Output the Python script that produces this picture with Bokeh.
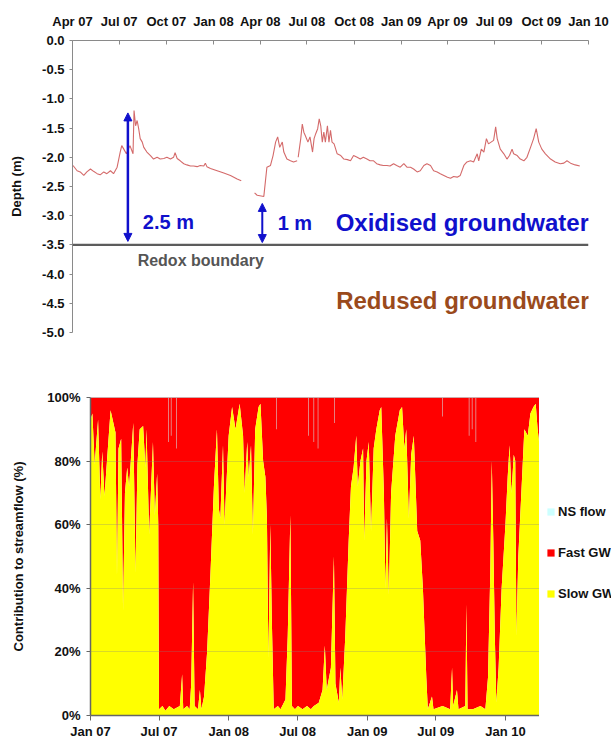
import numpy as np
import pandas as pd
from bokeh.plotting import figure
from bokeh.models import (Range1d, FixedTicker, Label, Arrow, NormalHead, Span,
                          Legend, LegendItem, DatetimeTickFormatter, PrintfTickFormatter)
from bokeh.layouts import row
from bokeh.embed import file_html
from bokeh.resources import INLINE

# ---------------- data: groundwater depth (m) ----------------
depth_dates_1 = ["2007-04-02", "2007-04-10", "2007-04-16", "2007-04-23", "2007-04-29", "2007-05-06",
                 "2007-05-12", "2007-05-19", "2007-05-25", "2007-06-01", "2007-06-07", "2007-06-14",
                 "2007-06-20", "2007-06-27", "2007-07-03", "2007-07-06", "2007-07-10", "2007-07-15",
                 "2007-07-19", "2007-07-22", "2007-07-28", "2007-07-30", "2007-08-02", "2007-08-05",
                 "2007-08-08", "2007-08-11", "2007-08-15", "2007-08-18", "2007-08-24", "2007-08-31",
                 "2007-09-06", "2007-09-13", "2007-09-19", "2007-09-26", "2007-10-02", "2007-10-09",
                 "2007-10-15", "2007-10-18", "2007-10-22", "2007-10-28", "2007-11-04", "2007-11-10",
                 "2007-11-17", "2007-11-23", "2007-11-30", "2007-12-06", "2007-12-13", "2007-12-16",
                 "2007-12-19", "2007-12-26", "2008-01-08", "2008-01-21", "2008-02-03", "2008-02-16",
                 "2008-02-24"]
depth_1 = [-2.14, -2.23, -2.25, -2.31, -2.25, -2.20,
           -2.24, -2.28, -2.30, -2.25, -2.28, -2.23,
           -2.28, -2.17, -1.91, -1.80, -1.86, -1.94,
           -1.86, -1.80, -1.94, -1.20, -1.46, -1.37,
           -1.51, -1.68, -1.74, -1.83, -1.91, -1.97,
           -2.03, -2.00, -2.03, -2.02, -2.00, -2.03,
           -2.00, -1.92, -2.02, -2.06, -2.11, -2.13,
           -2.15, -2.15, -2.16, -2.14, -2.15, -2.10,
           -2.16, -2.19, -2.23, -2.27, -2.31, -2.37,
           -2.40]

depth_dates_2 = ["2008-03-21", "2008-03-26", "2008-04-08", "2008-04-11", "2008-04-14", "2008-04-21",
                 "2008-04-26", "2008-05-01", "2008-05-05", "2008-05-09", "2008-05-14", "2008-05-17",
                 "2008-05-23", "2008-05-30", "2008-06-05", "2008-06-12"]
depth_2 = [-2.61, -2.65, -2.67, -2.42, -2.17, -2.14,
           -1.97, -1.74, -1.65, -1.83, -1.74, -1.91,
           -2.03, -2.06, -2.08, -2.06]

depth_dates_3 = ["2008-06-14", "2008-06-19", "2008-06-22", "2008-06-25", "2008-06-28", "2008-07-03",
                 "2008-07-07", "2008-07-12", "2008-07-15", "2008-07-18", "2008-07-22", "2008-07-25",
                 "2008-07-28", "2008-07-31", "2008-08-03", "2008-08-06", "2008-08-10", "2008-08-13",
                 "2008-08-16", "2008-08-19", "2008-08-23", "2008-08-29", "2008-09-05", "2008-09-11",
                 "2008-09-18", "2008-09-24", "2008-09-30", "2008-10-07", "2008-10-13", "2008-10-19",
                 "2008-10-26", "2008-11-01", "2008-11-08", "2008-11-14", "2008-11-21", "2008-11-27",
                 "2008-12-04", "2008-12-10", "2008-12-17", "2008-12-23", "2008-12-30", "2009-01-06",
                 "2009-01-12", "2009-01-19", "2009-01-25", "2009-02-01", "2009-02-07", "2009-02-14",
                 "2009-02-20", "2009-02-27", "2009-03-05", "2009-03-12", "2009-03-18", "2009-03-25",
                 "2009-04-01", "2009-04-07", "2009-04-13", "2009-04-20", "2009-04-26", "2009-05-03",
                 "2009-05-09", "2009-05-16", "2009-05-22", "2009-05-29", "2009-06-01", "2009-06-06",
                 "2009-06-11", "2009-06-16", "2009-06-20", "2009-06-25", "2009-06-30", "2009-07-04",
                 "2009-07-07", "2009-07-13", "2009-07-20", "2009-07-26", "2009-07-31", "2009-08-05",
                 "2009-08-08", "2009-08-15", "2009-08-21", "2009-08-28", "2009-09-03", "2009-09-10",
                 "2009-09-16", "2009-09-21", "2009-09-26", "2009-10-02", "2009-10-09", "2009-10-19",
                 "2009-10-28", "2009-11-07", "2009-11-14", "2009-11-20", "2009-11-27", "2009-12-06",
                 "2009-12-15"]
depth_3 = [-2.00, -1.68, -1.43, -1.57, -1.63, -1.74,
           -1.65, -1.91, -1.68, -1.60, -1.51, -1.34,
           -1.46, -1.74, -1.57, -1.74, -1.46, -1.74,
           -1.54, -1.74, -1.77, -1.94, -1.97, -2.03,
           -2.04, -2.06, -1.97, -2.00, -2.03, -2.00,
           -2.03, -2.06, -2.06, -2.11, -2.13, -2.14,
           -2.14, -2.15, -2.11, -2.14, -2.17, -2.11,
           -2.17, -2.17, -2.20, -2.25, -2.23, -2.14,
           -2.11, -2.14, -2.23, -2.25, -2.28, -2.31,
           -2.34, -2.36, -2.33, -2.34, -2.31, -2.14,
           -2.08, -2.06, -2.08, -1.94, -2.06, -1.86,
           -1.91, -1.68, -1.77, -1.74, -1.71, -1.48,
           -1.68, -1.86, -1.94, -2.03, -1.97, -1.86,
           -1.94, -1.97, -2.03, -2.06, -2.00, -1.83,
           -1.68, -1.51, -1.74, -1.86, -1.94, -2.03,
           -2.08, -2.11, -2.10, -2.06, -2.10, -2.13,
           -2.15]

REDOX_DEPTH = -3.5
top_ticks = ["2007-04-01", "2007-07-01", "2007-10-01", "2008-01-01", "2008-04-01", "2008-07-01",
             "2008-10-01", "2009-01-01", "2009-04-01", "2009-07-01", "2009-10-01", "2010-01-01"]

# ---------------- data: contribution to streamflow (%) ----------------
slow_dates = ["2007-01-01", "2007-01-06", "2007-01-12", "2007-01-21", "2007-01-27", "2007-02-01",
              "2007-02-07", "2007-02-23", "2007-03-08", "2007-03-12", "2007-03-16", "2007-03-23",
              "2007-03-28", "2007-04-02", "2007-04-08", "2007-04-13", "2007-04-24", "2007-04-30",
              "2007-05-05", "2007-05-11", "2007-05-20", "2007-05-26", "2007-05-29", "2007-06-05",
              "2007-06-15", "2007-06-20", "2007-06-26", "2007-06-29", "2007-07-01", "2007-07-10",
              "2007-07-18", "2007-07-28", "2007-08-09", "2007-08-25", "2007-08-31", "2007-09-03",
              "2007-09-13", "2007-09-20", "2007-09-24", "2007-09-29", "2007-10-03", "2007-10-12",
              "2007-10-17", "2007-10-21", "2007-10-28", "2007-11-05", "2007-11-14", "2007-11-23",
              "2007-12-01", "2007-12-06", "2007-12-10", "2007-12-17", "2007-12-21",
              "2008-01-01", "2008-01-10", "2008-01-19", "2008-01-30", "2008-02-08", "2008-02-12",
              "2008-02-19", "2008-02-23", "2008-02-29", "2008-03-05", "2008-03-11", "2008-03-20",
              "2008-03-25", "2008-04-01", "2008-04-07", "2008-04-11", "2008-04-15", "2008-04-20",
              "2008-04-24", "2008-04-29", "2008-05-10", "2008-05-17", "2008-05-30", "2008-06-05",
              "2008-06-12", "2008-06-16", "2008-06-24", "2008-07-02", "2008-07-14", "2008-07-26",
              "2008-08-05", "2008-08-13", "2008-08-26", "2008-09-05", "2008-09-11", "2008-09-16",
              "2008-09-27", "2008-10-05", "2008-10-09", "2008-10-18", "2008-10-22", "2008-10-27",
              "2008-11-04", "2008-11-13", "2008-11-19", "2008-11-26", "2008-12-03", "2008-12-07",
              "2008-12-14", "2008-12-21", "2008-12-24", "2008-12-30",
              "2009-01-05", "2009-01-11", "2009-01-18", "2009-01-25", "2009-02-03", "2009-02-07",
              "2009-02-14", "2009-02-18", "2009-02-22", "2009-02-27", "2009-03-05", "2009-03-16",
              "2009-03-28", "2009-04-03", "2009-04-09", "2009-04-14", "2009-04-21", "2009-04-27",
              "2009-05-04", "2009-05-13", "2009-05-21", "2009-05-28", "2009-06-06", "2009-06-10",
              "2009-06-21", "2009-06-25", "2009-07-19", "2009-08-08", "2009-08-13", "2009-08-16",
              "2009-08-26", "2009-08-30", "2009-09-17", "2009-09-20", "2009-09-23", "2009-10-07",
              "2009-10-27", "2009-11-09", "2009-11-16", "2009-11-22", "2009-11-26", "2009-11-30",
              "2009-12-04", "2009-12-08", "2009-12-14", "2009-12-22",
              "2010-01-01", "2010-01-07", "2010-01-12", "2010-01-17", "2010-01-23", "2010-01-27",
              "2010-01-30", "2010-02-04", "2010-02-12", "2010-02-20", "2010-03-01", "2010-03-08",
              "2010-03-16", "2010-03-22", "2010-03-27", "2010-04-01"]
slow_gw = [93, 95, 79, 93, 68, 83,
           69, 96, 89, 44, 84, 87,
           33, 70, 78, 72, 92, 45,
           79, 90, 91, 78, 90, 57,
           86, 63, 76, 60, 2, 3,
           1.5, 3, 2, 3, 13, 2,
           3, 2, 10, 42, 3, 2,
           8, 2, 6, 20, 45, 72,
           90, 65, 62, 85, 60,
           88, 97, 90, 98, 88, 70,
           86, 75, 85, 57, 90, 97,
           98, 80, 75, 62, 18, 60,
           30, 2, 3, 2, 5, 25,
           63, 3, 2, 3, 2, 3,
           2, 3, 4, 8, 22, 8,
           15, 50, 10, 4, 15, 5,
           25, 55, 72, 78, 88, 72,
           80, 84, 55, 80,
           86, 58, 84, 90, 96, 97,
           70, 40, 62, 38, 70, 88,
           96, 97, 84, 90, 62, 82,
           88, 58, 55, 40, 12, 2,
           6, 2, 3, 2, 15, 3,
           8, 2, 3, 35, 2, 2,
           3, 2, 12, 45, 80, 55,
           25, 4, 15, 40,
           60, 75, 85, 70, 82, 80,
           25, 50, 70, 90, 88, 95,
           97, 98, 90, 85]

ns_dates = ["2007-07-26", "2007-08-02", "2007-08-16", "2008-05-06", "2008-07-30", "2008-08-13",
            "2008-08-24", "2008-10-07", "2009-07-19", "2009-09-27", "2009-10-05", "2009-10-15"]
ns_flow = [14, 12, 16, 10, 12, 14, 16, 8, 6, 12, 10, 14]

bottom_ticks = ["2007-01-01", "2007-07-01", "2008-01-01", "2008-07-01", "2009-01-01",
                "2009-07-01", "2010-01-01"]
pct_ticks = [0, 20, 40, 60, 80, 100]

series_names = ["NS flow", "Fast GW", "Slow GW"]
series_colors = ["#ccffff", "#ff0000", "#ffff00"]

# ---------------- styling helpers ----------------
FONT = "Liberation Sans"
BLUE = "#1010cc"
DAY_MS = 86400000.0


def ms(s):
    return pd.Timestamp(s).value / 1e6


def fmt_dates():
    f = "%b %y"
    return DatetimeTickFormatter(milliseconds=f, seconds=f, minsec=f, minutes=f, hourmin=f,
                                 hours=f, days=f, months=f, years=f)


def style_labels(axis, size="13px"):
    axis.major_label_text_font = FONT
    axis.major_label_text_font_style = "bold"
    axis.major_label_text_font_size = size
    axis.major_label_text_color = "#111111"
    axis.minor_tick_line_color = None


# ---------------- top chart ----------------
p1 = figure(width=611, height=370, x_axis_type="datetime", x_axis_location="above",
            output_backend="svg", toolbar_location=None,
            min_border_left=72, min_border_right=23, min_border_top=40, min_border_bottom=38)
p1.x_range = Range1d(ms("2007-04-01"), ms("2010-01-01"))
p1.y_range = Range1d(-5.0, 0.0)
p1.outline_line_color = None
p1.grid.grid_line_color = None
p1.background_fill_color = "white"
p1.border_fill_color = "white"

for dts, vals in [(depth_dates_1, depth_1), (depth_dates_2, depth_2), (depth_dates_3, depth_3)]:
    p1.line(pd.to_datetime(dts), vals, line_color="#d46a6a", line_width=1.1)

p1.add_layout(Span(location=REDOX_DEPTH, dimension="width", line_color="#5c5c5c", line_width=2.2))

xa = p1.xaxis[0]
xa.ticker = FixedTicker(ticks=[ms(t) for t in top_ticks])
xa.formatter = fmt_dates()
xa.major_tick_in = 4
xa.major_tick_out = 0
xa.axis_line_color = "#8a8a8a"
xa.major_tick_line_color = "#8a8a8a"
xa.major_label_standoff = 12
style_labels(xa)

ya = p1.yaxis[0]
ya.ticker = FixedTicker(ticks=[-5.0 + 0.5 * i for i in range(11)])
ya.formatter = PrintfTickFormatter(format="%.1f")
ya.major_tick_in = 0
ya.major_tick_out = 3
ya.axis_line_color = "#8a8a8a"
ya.major_tick_line_color = "#8a8a8a"
ya.major_label_standoff = 5
style_labels(ya)
ya.axis_label = "Depth (m)"
ya.axis_label_text_font = FONT
ya.axis_label_text_font_style = "bold"
ya.axis_label_text_font_size = "13px"
ya.axis_label_standoff = 15
ya.axis_label_text_color = "#111111"

# arrows
peak_1 = max(depth_1)
low_2 = min(depth_2)
p1.add_layout(Arrow(x_start=ms("2007-07-18"), y_start=REDOX_DEPTH + 0.06,
                    x_end=ms("2007-07-18"), y_end=peak_1 - 0.04,
                    start=NormalHead(size=8, fill_color=BLUE, line_color=BLUE),
                    end=NormalHead(size=8, fill_color=BLUE, line_color=BLUE),
                    line_color=BLUE, line_width=2.5))
p1.add_layout(Arrow(x_start=ms("2008-04-05"), y_start=REDOX_DEPTH + 0.04,
                    x_end=ms("2008-04-05"), y_end=low_2 - 0.12,
                    start=NormalHead(size=8, fill_color=BLUE, line_color=BLUE),
                    end=NormalHead(size=8, fill_color=BLUE, line_color=BLUE),
                    line_color=BLUE, line_width=2.0))


def add_label(p, x, y, text, color, size):
    p.add_layout(Label(x=x, y=y, text=text, text_color=color, text_font=FONT,
                       text_font_style="bold", text_font_size=size,
                       text_baseline="middle", text_align="left"))


add_label(p1, ms("2007-08-16"), -3.11, "2.5 m", BLUE, "20px")
add_label(p1, ms("2008-05-05"), -3.12, "1 m", BLUE, "20px")
add_label(p1, ms("2008-08-26"), -3.11, "Oxidised groundwater", BLUE, "24px")
add_label(p1, ms("2007-08-06"), -3.77, "Redox boundary", "#555555", "16px")
add_label(p1, ms("2008-08-27"), -4.45, "Redused groundwater", "#9a4a1c", "24px")

# ---------------- bottom chart ----------------
p2 = figure(width=539, height=371, x_axis_type="datetime",
            output_backend="svg", toolbar_location=None,
            min_border_left=90, min_border_right=0, min_border_top=27, min_border_bottom=23)
p2.x_range = Range1d(ms("2007-01-01"), ms("2010-04-01"))
p2.y_range = Range1d(0, 100)
p2.outline_line_color = None
p2.background_fill_color = "white"
p2.border_fill_color = "white"

sd = pd.to_datetime(slow_dates)
full = [100] * len(slow_gw)
p2.varea(x=sd, y1=slow_gw, y2=full, fill_color=series_colors[1])
p2.varea(x=sd, y1=[0] * len(slow_gw), y2=slow_gw, fill_color=series_colors[2])
p2.vbar(x=pd.to_datetime(ns_dates), width=1.3 * DAY_MS,
        bottom=[100 - v for v in ns_flow], top=[100] * len(ns_flow),
        fill_color=series_colors[0], line_color=None)

p2.xgrid.grid_line_color = None
p2.ygrid.ticker = FixedTicker(ticks=pct_ticks)
p2.ygrid.grid_line_color = "#808080"
p2.ygrid.grid_line_alpha = 0.3
p2.ygrid.level = "overlay"
p2.add_layout(Span(location=100, dimension="width", line_color="#9a9a9a", line_width=1))

xb = p2.xaxis[0]
xb.ticker = FixedTicker(ticks=[ms(t) for t in bottom_ticks])
xb.formatter = fmt_dates()
xb.major_tick_in = 0
xb.major_tick_out = 5
xb.axis_line_color = "#666666"
xb.axis_line_width = 1.5
xb.major_tick_line_color = "#666666"
xb.major_label_standoff = 3
style_labels(xb)

yb = p2.yaxis[0]
yb.ticker = FixedTicker(ticks=pct_ticks)
yb.formatter = PrintfTickFormatter(format="%d%%")
yb.major_tick_in = 0
yb.major_tick_out = 4
yb.axis_line_color = "#666666"
yb.axis_line_width = 1.5
yb.major_tick_line_color = "#666666"
yb.major_label_standoff = 6
style_labels(yb)
yb.axis_label = "Contribution to streamflow (%)"
yb.axis_label_text_font = FONT
yb.axis_label_text_font_style = "bold"
yb.axis_label_text_font_size = "13px"
yb.axis_label_standoff = 18
yb.axis_label_text_color = "#111111"

# ---------------- legend panel ----------------
pl = figure(width=72, height=371, output_backend="svg", toolbar_location=None,
            x_axis_type=None, y_axis_type=None,
            min_border_left=0, min_border_right=0, min_border_top=27, min_border_bottom=23)
pl.x_range = Range1d(0, 1)
pl.y_range = Range1d(0, 1)
pl.outline_line_color = None
pl.grid.grid_line_color = None
pl.background_fill_color = "white"
pl.border_fill_color = "white"

items = []
for name, col in zip(series_names, series_colors):
    # legend swatch source: one off-screen cell so the legend has a glyph to draw
    r = pl.quad(left=[-3], right=[-2], top=[-2], bottom=[-3], fill_color=col, line_color=None)
    items.append(LegendItem(label=name, renderers=[r]))

legend = Legend(items=items, location=(7, 114), orientation="vertical",
                glyph_width=9, glyph_height=9, label_height=15, label_standoff=3,
                spacing=26, padding=0, margin=0,
                border_line_color=None, background_fill_alpha=0,
                label_text_font=FONT, label_text_font_style="bold",
                label_text_font_size="13px", label_text_color="#111111")
pl.add_layout(legend)

open("out.html", "w").write(file_html([p1, row(p2, pl)], INLINE))
